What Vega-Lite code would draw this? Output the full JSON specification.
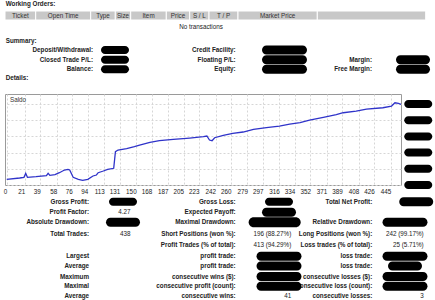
{
  "$schema": "https://vega.github.io/schema/vega-lite/v6.json",
  "padding": {"left": 2, "top": 0, "right": 0, "bottom": 0},
  "spacing": 0,
  "bounds": "flush",
  "config": {
    "view": {"stroke": null},
    "text": {"font": "Liberation Sans", "fontSize": 6.3, "color": "#222"},
    "axis": {"labelFont": "Liberation Sans", "labelOverlap": false}
  },
  "vconcat": [
    {
      "width": 433,
      "height": 94,
      "resolve": {"scale": {"x": "independent"}},
      "layer": [
        {
          "data": {"values": [
            {"name": "Ticket", "b0": 0, "b1": 1, "m": 0.5},
            {"name": "Open Time", "b0": 1, "b1": 2, "m": 1.5},
            {"name": "Type", "b0": 2, "b1": 3, "m": 2.5},
            {"name": "Size", "b0": 3, "b1": 4, "m": 3.5},
            {"name": "Item", "b0": 4, "b1": 5, "m": 4.5},
            {"name": "Price", "b0": 5, "b1": 6, "m": 5.5},
            {"name": "S / L", "b0": 6, "b1": 7, "m": 6.5},
            {"name": "T / P", "b0": 7, "b1": 8, "m": 7.5},
            {"name": "Market Price", "b0": 8, "b1": 9, "m": 8.5},
            {"name": "", "b0": 9, "b1": 10, "m": 9.5}
          ]},
          "layer": [
            {
              "mark": {"type": "rect", "fill": "#c8c8c8", "stroke": "#ffffff", "strokeWidth": 1},
              "encoding": {
                "x": {"field": "b0", "type": "quantitative", "axis": null,
                      "scale": {"domain": [0,1,2,3,4,5,6,7,8,9,10], "range": [0,30.7,85.7,110.3,125.7,161.3,184.7,204,233,312.3,420.7], "nice": false, "zero": false}},
                "x2": {"field": "b1"},
                "y": {"datum": 0.5, "type": "quantitative", "axis": null,
                      "scale": {"domain": [0,0.5,1,1.5,2,3,4,5,6,7,8], "range": [4.3,11,15.5,20,26.7,40.7,50,59.7,69.3,78.3,86], "nice": false, "zero": false}},
                "y2": {"datum": 1.5}
              }
            },
            {
              "mark": {"type": "text", "align": "center", "baseline": "middle", "color": "#333"},
              "encoding": {
                "x": {"field": "m", "type": "quantitative"},
                "y": {"datum": 1, "type": "quantitative"},
                "text": {"field": "name"}
              }
            }
          ]
        },
        {
          "layer": [
            {
              "data": {"values": [
                {"text": "Working Orders:", "c": 1, "line": 0},
                {"text": "Summary:", "c": 1, "line": 3},
                {"text": "Details:", "c": 1, "line": 7}
              ]},
              "mark": {"type": "text", "align": "left", "baseline": "middle", "fontWeight": "bold"},
              "encoding": {
                "x": {"field": "c", "type": "quantitative", "axis": null,
                      "scale": {"domain": [0,1,2,3,4,5,6,7,8,9], "range": [0,0.7,88,110,196,230.7,279.5,367,396,408], "nice": false, "zero": false}},
                "y": {"field": "line", "type": "quantitative", "axis": null,
                      "scale": {"domain": [0,0.5,1,1.5,2,3,4,5,6,7,8], "range": [4.3,11,15.5,20,26.7,40.7,50,59.7,69.3,78.3,86], "nice": false, "zero": false}},
                "text": {"field": "text"}
              }
            },
            {
              "data": {"values": [{"text": "No transactions", "c": 4, "line": 2}]},
              "mark": {"type": "text", "align": "center", "baseline": "middle"},
              "encoding": {
                "x": {"field": "c", "type": "quantitative"},
                "y": {"field": "line", "type": "quantitative"},
                "text": {"field": "text"}
              }
            },
            {
              "data": {"values": [
                {"text": "Deposit/Withdrawal:", "c": 2, "line": 4},
                {"text": "Closed Trade P/L:", "c": 2, "line": 5},
                {"text": "Balance:", "c": 2, "line": 6},
                {"text": "Credit Facility:", "c": 5, "line": 4},
                {"text": "Floating P/L:", "c": 5, "line": 5},
                {"text": "Equity:", "c": 5, "line": 6},
                {"text": "Margin:", "c": 7, "line": 5},
                {"text": "Free Margin:", "c": 7, "line": 6}
              ]},
              "mark": {"type": "text", "align": "right", "baseline": "middle", "fontWeight": "bold"},
              "encoding": {
                "x": {"field": "c", "type": "quantitative"},
                "y": {"field": "line", "type": "quantitative"},
                "text": {"field": "text"}
              }
            },
            {
              "data": {"values": [
                {"c": 3, "line": 4, "kind": "s"},
                {"c": 3, "line": 5, "kind": "s"},
                {"c": 3, "line": 6, "kind": "s"},
                {"c": 6, "line": 4, "kind": "l"},
                {"c": 6, "line": 5, "kind": "l"},
                {"c": 6, "line": 6, "kind": "l"},
                {"c": 9, "line": 5, "kind": "m"},
                {"c": 9, "line": 6, "kind": "m"}
              ]},
              "mark": {"type": "point", "filled": true, "size": 2704, "color": "#000000", "opacity": 1, "strokeWidth": 0},
              "encoding": {
                "x": {"field": "c", "type": "quantitative"},
                "y": {"field": "line", "type": "quantitative"},
                "shape": {"field": "kind", "type": "nominal", "legend": null,
                          "scale": {"domain": ["s", "m", "l", "xl"], "range": [
                            "M -0.385 -0.154 L 0.385 -0.154 A 0.154 0.154 0 0 1 0.385 0.154 L -0.385 0.154 A 0.154 0.154 0 0 1 -0.385 -0.154 Z",
                            "M -0.481 -0.173 L 0.481 -0.173 A 0.173 0.173 0 0 1 0.481 0.173 L -0.481 0.173 A 0.173 0.173 0 0 1 -0.481 -0.173 Z",
                            "M -0.692 -0.173 L 0.692 -0.173 A 0.173 0.173 0 0 1 0.692 0.173 L -0.692 0.173 A 0.173 0.173 0 0 1 -0.692 -0.173 Z",
                            "M -0.808 -0.192 L 0.808 -0.192 A 0.192 0.192 0 0 1 0.808 0.192 L -0.808 0.192 A 0.192 0.192 0 0 1 -0.808 -0.192 Z"]}}
              }
            },
            {
              "mark": {"type": "rule", "color": "#b0b0b0", "strokeWidth": 1},
              "encoding": {
                "x": {"datum": 0, "type": "quantitative"},
                "x2": {"datum": 8},
                "y": {"datum": 8, "type": "quantitative"}
              }
            }
          ]
        }
      ]
    },
    {
      "width": 396,
      "height": 91,
      "view": {"stroke": "#9a9a9a"},
      "layer": [
        {
          "data": {"values": [
            {"t": 0, "bal": 352}, {"t": 15, "bal": 432}, {"t": 20, "bal": 475}, {"t": 22, "bal": 722},
            {"t": 24, "bal": 475}, {"t": 34, "bal": 512}, {"t": 46, "bal": 574}, {"t": 48, "bal": 722},
            {"t": 50, "bal": 599}, {"t": 56, "bal": 636}, {"t": 61, "bal": 759}, {"t": 67, "bal": 926},
            {"t": 71, "bal": 969}, {"t": 73, "bal": 926}, {"t": 77, "bal": 475}, {"t": 83, "bal": 352},
            {"t": 88, "bal": 290}, {"t": 94, "bal": 352}, {"t": 100, "bal": 556}, {"t": 104, "bal": 617},
            {"t": 106, "bal": 759}, {"t": 112, "bal": 864}, {"t": 117, "bal": 969}, {"t": 124, "bal": 1031},
            {"t": 126, "bal": 2056}, {"t": 129, "bal": 2160}, {"t": 139, "bal": 2241}, {"t": 148, "bal": 2364},
            {"t": 154, "bal": 2469}, {"t": 166, "bal": 2636}, {"t": 177, "bal": 2735}, {"t": 193, "bal": 2821},
            {"t": 212, "bal": 2901}, {"t": 228, "bal": 2981}, {"t": 232, "bal": 3025}, {"t": 235, "bal": 2778},
            {"t": 238, "bal": 2735}, {"t": 241, "bal": 2920}, {"t": 251, "bal": 3068}, {"t": 262, "bal": 3191},
            {"t": 274, "bal": 3272}, {"t": 286, "bal": 3438}, {"t": 301, "bal": 3537}, {"t": 316, "bal": 3642},
            {"t": 328, "bal": 3765}, {"t": 340, "bal": 3846}, {"t": 351, "bal": 4012}, {"t": 367, "bal": 4179},
            {"t": 382, "bal": 4340}, {"t": 390, "bal": 4463}, {"t": 405, "bal": 4568}, {"t": 417, "bal": 4691},
            {"t": 436, "bal": 4772}, {"t": 446, "bal": 4877}, {"t": 450, "bal": 5080}, {"t": 454, "bal": 5043},
            {"t": 457, "bal": 4981}
          ]},
          "mark": {"type": "line", "color": "#2f33c9", "strokeWidth": 1.3},
          "encoding": {
            "x": {"field": "t", "type": "quantitative",
                  "scale": {"domain": [-2, 457], "nice": false, "zero": false},
                  "axis": {"values": [0,21,39,58,76,94,113,131,150,168,187,205,223,242,260,279,297,316,334,352,371,389,408,426,445],
                           "tickCount": 40,
                           "grid": true, "gridColor": "#d6d6d6", "gridDash": [2, 2], "gridWidth": 1,
                           "domain": false, "ticks": false, "title": null,
                           "labelAlign": "right", "labelBaseline": "middle", "labelPadding": 6,
                           "labelFontSize": 6.3, "labelColor": "#222", "labelOverlap": false, "labelFlush": false, "labelBound": false}},
            "y": {"field": "bal", "type": "quantitative",
                  "scale": {"domain": [0, 5620], "nice": false, "zero": false},
                  "axis": {"orient": "right", "values": [0,1000,2000,3000,4000,5000], "tickCount": 10,
                           "grid": true, "gridColor": "#d6d6d6", "gridDash": [2, 2], "gridWidth": 1,
                           "labels": false, "ticks": false, "domain": false, "title": null}}
          }
        },
        {
          "data": {"values": [{"v": 0}, {"v": 1000}, {"v": 2000}, {"v": 3000}, {"v": 4000}, {"v": 5000}]},
          "mark": {"type": "point", "filled": true, "size": 2704, "color": "#000000", "opacity": 1, "strokeWidth": 0,
                   "shape": "M -0.385 -0.154 L 0.385 -0.154 A 0.154 0.154 0 0 1 0.385 0.154 L -0.385 0.154 A 0.154 0.154 0 0 1 -0.385 -0.154 Z"},
          "encoding": {
            "x": {"datum": 477, "type": "quantitative"},
            "y": {"field": "v", "type": "quantitative"}
          }
        },
        {
          "data": {"values": [{"label": "Saldo", "t": 3.8, "bal": 5247}]},
          "mark": {"type": "text", "align": "left", "baseline": "middle", "color": "#333"},
          "encoding": {
            "x": {"field": "t", "type": "quantitative"},
            "y": {"field": "bal", "type": "quantitative"},
            "text": {"field": "label"}
          }
        }
      ]
    },
    {
      "width": 433,
      "height": 115,
      "layer": [
        {
          "data": {"values": [
            {"text": "Gross Profit:", "c": 0, "row": 0},
            {"text": "Gross Loss:", "c": 3, "row": 0},
            {"text": "Total Net Profit:", "c": 6, "row": 0},
            {"text": "Profit Factor:", "c": 0, "row": 1},
            {"text": "Expected Payoff:", "c": 3, "row": 1},
            {"text": "Absolute Drawdown:", "c": 0, "row": 2},
            {"text": "Maximal Drawdown:", "c": 3, "row": 2},
            {"text": "Relative Drawdown:", "c": 6, "row": 2},
            {"text": "Total Trades:", "c": 0, "row": 3},
            {"text": "Short Positions (won %):", "c": 3, "row": 3},
            {"text": "Long Positions (won %):", "c": 6, "row": 3},
            {"text": "Profit Trades (% of total):", "c": 3, "row": 4},
            {"text": "Loss trades (% of total):", "c": 6, "row": 4},
            {"text": "Largest", "c": 0, "row": 5},
            {"text": "profit trade:", "c": 3, "row": 5},
            {"text": "loss trade:", "c": 6, "row": 5},
            {"text": "Average", "c": 0, "row": 6},
            {"text": "profit trade:", "c": 3, "row": 6},
            {"text": "loss trade:", "c": 6, "row": 6},
            {"text": "Maximum", "c": 0, "row": 7},
            {"text": "consecutive wins ($):", "c": 3, "row": 7},
            {"text": "consecutive losses ($):", "c": 6, "row": 7},
            {"text": "Maximal", "c": 0, "row": 8},
            {"text": "consecutive profit (count):", "c": 3, "row": 8},
            {"text": "consecutive loss (count):", "c": 6, "row": 8},
            {"text": "Average", "c": 0, "row": 9},
            {"text": "consecutive wins:", "c": 3, "row": 9},
            {"text": "consecutive losses:", "c": 6, "row": 9}
          ]},
          "mark": {"type": "text", "align": "right", "baseline": "middle", "fontWeight": "bold"},
          "encoding": {
            "x": {"field": "c", "type": "quantitative", "axis": null,
                  "scale": {"domain": [0,1,2,3,4,5,6,7,8], "range": [84,118,125.5,230.7,274,286.3,367.3,400,418.7], "nice": false, "zero": false}},
            "y": {"field": "row", "type": "quantitative", "axis": null,
                  "scale": {"domain": [0,1,2,3,4,5,6,7,8,9,10], "range": [16.7,27.3,37.3,49.3,59.5,71.3,81,91.5,101.3,110.5,114], "nice": false, "zero": false}},
            "text": {"field": "text"}
          }
        },
        {
          "data": {"values": [
            {"text": "4.27", "c": 2, "row": 1},
            {"text": "438", "c": 2, "row": 3},
            {"text": "196 (88.27%)", "c": 5, "row": 3},
            {"text": "242 (99.17%)", "c": 8, "row": 3},
            {"text": "413 (94.29%)", "c": 5, "row": 4},
            {"text": "25 (5.71%)", "c": 8, "row": 4},
            {"text": "41", "c": 5, "row": 9},
            {"text": "3", "c": 8, "row": 9}
          ]},
          "mark": {"type": "text", "align": "right", "baseline": "middle"},
          "encoding": {
            "x": {"field": "c", "type": "quantitative"},
            "y": {"field": "row", "type": "quantitative"},
            "text": {"field": "text"}
          }
        },
        {
          "data": {"values": [
            {"c": 1, "row": 0, "kind": "s"},
            {"c": 4, "row": 0, "kind": "s"},
            {"c": 7.6, "row": 0, "kind": "m"},
            {"c": 4, "row": 1, "kind": "m"},
            {"c": 1, "row": 2, "kind": "m"},
            {"c": 3.9, "row": 2, "kind": "xl"},
            {"c": 7, "row": 2, "kind": "l"},
            {"c": 4, "row": 5, "kind": "l"},
            {"c": 7, "row": 5, "kind": "l"},
            {"c": 4, "row": 6, "kind": "l"},
            {"c": 7, "row": 6, "kind": "m"},
            {"c": 4, "row": 7, "kind": "l"},
            {"c": 7, "row": 7, "kind": "l"},
            {"c": 4, "row": 8, "kind": "l"},
            {"c": 7, "row": 8, "kind": "l"}
          ]},
          "mark": {"type": "point", "filled": true, "size": 2704, "color": "#000000", "opacity": 1, "strokeWidth": 0},
          "encoding": {
            "x": {"field": "c", "type": "quantitative"},
            "y": {"field": "row", "type": "quantitative"},
            "shape": {"field": "kind", "type": "nominal", "legend": null,
                      "scale": {"domain": ["s", "m", "l", "xl"], "range": [
                        "M -0.385 -0.154 L 0.385 -0.154 A 0.154 0.154 0 0 1 0.385 0.154 L -0.385 0.154 A 0.154 0.154 0 0 1 -0.385 -0.154 Z",
                        "M -0.481 -0.173 L 0.481 -0.173 A 0.173 0.173 0 0 1 0.481 0.173 L -0.481 0.173 A 0.173 0.173 0 0 1 -0.481 -0.173 Z",
                        "M -0.692 -0.173 L 0.692 -0.173 A 0.173 0.173 0 0 1 0.692 0.173 L -0.692 0.173 A 0.173 0.173 0 0 1 -0.692 -0.173 Z",
                        "M -0.808 -0.192 L 0.808 -0.192 A 0.192 0.192 0 0 1 0.808 0.192 L -0.808 0.192 A 0.192 0.192 0 0 1 -0.808 -0.192 Z"]}}
          }
        },
        {
          "mark": {"type": "rule", "color": "#a0a0a0", "strokeWidth": 1},
          "encoding": {
            "y": {"datum": 10, "type": "quantitative"}
          }
        }
      ]
    }
  ]
}
